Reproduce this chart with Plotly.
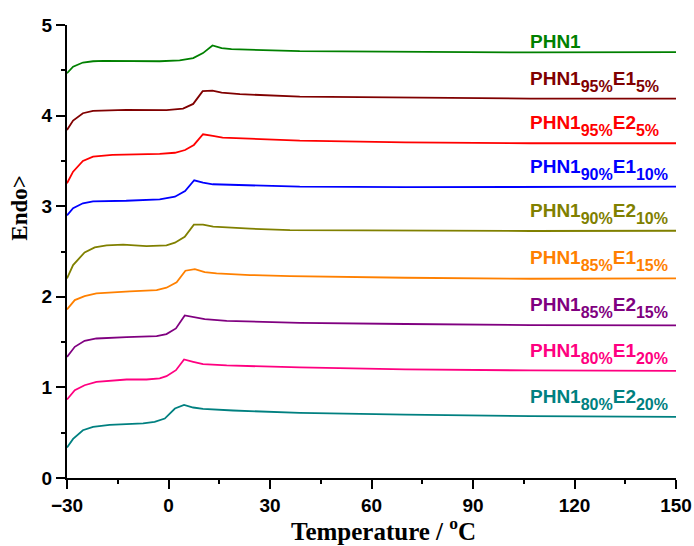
import plotly.graph_objects as go

# ---- data ----
names = ["PHN1", "PHN1_95E1_5", "PHN1_95E2_5", "PHN1_90E1_10", "PHN1_90E2_10",
         "PHN1_85E1_15", "PHN1_85E2_15", "PHN1_80E1_20", "PHN1_80E2_20"]

# (main text, subscript) pairs for the curve labels
label_parts = [
    [("PHN1", None)],
    [("PHN1", "95%"), ("E1", "5%")],
    [("PHN1", "95%"), ("E2", "5%")],
    [("PHN1", "90%"), ("E1", "10%")],
    [("PHN1", "90%"), ("E2", "10%")],
    [("PHN1", "85%"), ("E1", "15%")],
    [("PHN1", "85%"), ("E2", "15%")],
    [("PHN1", "80%"), ("E1", "20%")],
    [("PHN1", "80%"), ("E2", "20%")],
]

t_phn1 = [-30, -28.2, -25.3, -22.3, -19.3, -10, -2.6, 3.3, 7.3, 10.2, 13.0, 15.7, 18.6, 38.8, 70, 107, 150]
v_phn1 = [4.468, 4.54, 4.586, 4.60, 4.605, 4.603, 4.60, 4.61, 4.634, 4.69, 4.774, 4.745, 4.733, 4.711, 4.705, 4.697, 4.70]

t_95e1 = [-30, -28.2, -25.3, -22.3, -12.5, -0.6, 4.3, 7.3, 10.1, 13.0, 15.7, 21.1, 38.8, 70, 107, 150]
v_95e1 = [3.842, 3.945, 4.026, 4.052, 4.063, 4.06, 4.077, 4.129, 4.27, 4.276, 4.254, 4.236, 4.21, 4.198, 4.188, 4.188]

t_95e2 = [-30, -28.2, -25.3, -22.3, -16.6, -2.6, 1.9, 4.9, 7.5, 10.2, 13.1, 16.0, 38.8, 70, 107, 150]
v_95e2 = [3.253, 3.381, 3.499, 3.547, 3.566, 3.577, 3.59, 3.62, 3.676, 3.794, 3.776, 3.757, 3.724, 3.705, 3.695, 3.695]

t_90e1 = [-30, -28.2, -25.3, -22.3, -12.5, -2.6, 1.9, 4.9, 7.6, 10.2, 13.1, 38.8, 70, 107, 150]
v_90e1 = [2.899, 2.977, 3.032, 3.054, 3.06, 3.076, 3.105, 3.168, 3.286, 3.26, 3.242, 3.215, 3.21, 3.209, 3.215]

t_90e2 = [-30, -28.2, -24.8, -21.8, -18.3, -13.4, -6.5, -0.6, 1.9, 4.8, 7.5, 10.2, 13.2, 24.1, 35.9, 70, 107, 150]
v_90e2 = [2.203, 2.35, 2.49, 2.546, 2.568, 2.575, 2.56, 2.568, 2.597, 2.663, 2.796, 2.796, 2.774, 2.752, 2.737, 2.73, 2.726, 2.729]

t_85e1 = [-30, -27.7, -24.8, -21.3, -11.4, -3.5, -0.6, 2.4, 5.0, 7.8, 10.7, 14.2, 24.1, 35.9, 70, 107, 150]
v_85e1 = [1.861, 1.964, 2.008, 2.037, 2.06, 2.074, 2.1, 2.159, 2.288, 2.306, 2.273, 2.258, 2.24, 2.229, 2.21, 2.199, 2.203]

t_85e2 = [-30, -27.7, -24.8, -21.3, -12.4, -3.5, -0.6, 2.2, 4.8, 7.3, 10.7, 17.2, 38.8, 70, 107, 150]
v_85e2 = [1.337, 1.448, 1.514, 1.54, 1.555, 1.566, 1.588, 1.651, 1.794, 1.779, 1.754, 1.735, 1.713, 1.70, 1.687, 1.684]

t_80e1 = [-30, -27.7, -24.8, -21.3, -12.4, -6.5, -2.6, -0.6, 2.2, 4.6, 7.3, 10.2, 17.2, 38.8, 70, 107, 150]
v_80e1 = [0.866, 0.969, 1.024, 1.061, 1.087, 1.087, 1.10, 1.124, 1.19, 1.308, 1.282, 1.256, 1.242, 1.22, 1.20, 1.187, 1.182]

t_80e2 = [-30, -28.2, -25.3, -22.3, -17.4, -7.5, -4.1, -1.1, 1.9, 4.6, 7.3, 10.2, 19.1, 38.8, 70, 107, 150]
v_80e2 = [0.336, 0.431, 0.527, 0.564, 0.586, 0.604, 0.619, 0.656, 0.767, 0.807, 0.778, 0.762, 0.745, 0.718, 0.70, 0.682, 0.674]

temps = [t_phn1, t_95e1, t_95e2, t_90e1, t_90e2, t_85e1, t_85e2, t_80e1, t_80e2]
values = [v_phn1, v_95e1, v_95e2, v_90e1, v_90e2, v_85e1, v_85e2, v_80e1, v_80e2]

colors = ["#008000", "#800000", "#FF0000", "#0000FF", "#808000",
          "#FF8000", "#800080", "#FF0080", "#008080"]

x_ticks = [-30, 0, 30, 60, 90, 120, 150]
y_ticks = [0, 1, 2, 3, 4, 5]

# ---- style ----
SANS = "Liberation Sans, Arial, sans-serif"
SERIF = "Liberation Serif, Times New Roman, serif"
LABEL_X = 106.7          # left edge of the curve labels (temperature units)
LABEL_SIZE = 19
SUB_SIZE = 16

fig = go.Figure()
for n, t, v, c in zip(names, temps, values, colors):
    fig.add_trace(go.Scatter(x=t, y=v, mode="lines", name=n,
                             line=dict(color=c, width=1.8), showlegend=False))


def build_label(parts):
    s = ""
    for main, sub in parts:
        s += main
        if sub:
            s += "<sub><sub><span style='font-size:%dpx'>%s</span></sub></sub>" % (SUB_SIZE, sub)
    return "<b>" + s + "</b>"


for parts, v, c in zip(label_parts, values, colors):
    has_sub = any(p[1] for p in parts)
    fig.add_annotation(x=LABEL_X, y=v[-1], xref="x", yref="y", text=build_label(parts),
                       showarrow=False, xanchor="left", yanchor="bottom",
                       xshift=-2, yshift=(2 if has_sub else -2),
                       font=dict(family=SANS, size=LABEL_SIZE, color=c))

axis_common = dict(
    showline=True, linecolor="black", linewidth=2,
    ticks="outside", ticklen=9, tickwidth=2, tickcolor="black",
    showgrid=False, zeroline=False, automargin=False,
    tickfont=dict(family=SANS, size=19, color="black", weight="bold"),
)

fig.update_xaxes(range=[-30, 150], tickvals=x_ticks,
                 minor=dict(ticks="outside", ticklen=4, tickwidth=2, tickcolor="black", dtick=15, tick0=-30),
                 **axis_common)
fig.update_yaxes(range=[0, 5], tickvals=y_ticks,
                 minor=dict(ticks="outside", ticklen=4, tickwidth=2, tickcolor="black", dtick=0.5, tick0=0),
                 **axis_common)

# axis titles as annotations (placed like the reference)
fig.add_annotation(text="<b>Temperature / <sup>o</sup>C</b>", xref="paper", yref="paper",
                   x=0.519, y=-0.1134, xanchor="center", yanchor="middle", showarrow=False,
                   font=dict(family=SERIF, size=25, color="black"))
fig.add_annotation(text="<b>Endo&gt;</b>", xref="paper", yref="paper", textangle=-90,
                   x=-0.0794, y=0.596, xanchor="center", yanchor="middle", showarrow=False,
                   font=dict(family=SERIF, size=23, color="black"))

fig.update_layout(width=694, height=546, margin=dict(l=67, r=18, t=25, b=68),
                  plot_bgcolor="white", paper_bgcolor="white")

fig.write_html("out.html")
